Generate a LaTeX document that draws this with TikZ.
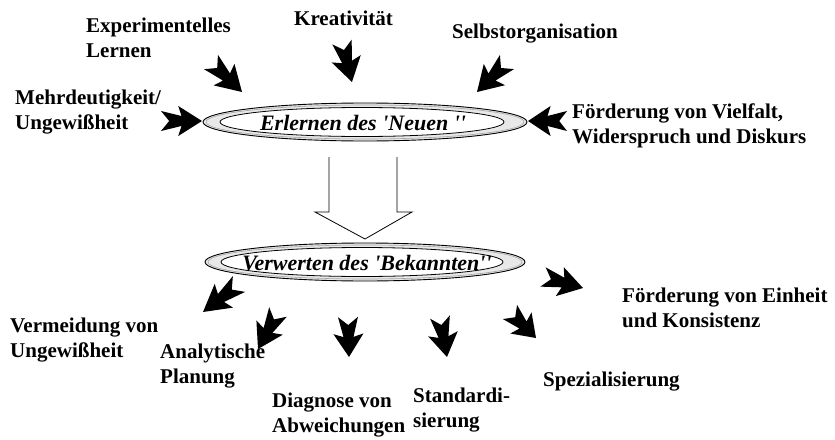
\documentclass[tikz,border=0pt]{standalone}
\usepackage{fontspec}
\setmainfont{Liberation Serif}
\usetikzlibrary{calc,shapes.geometric}
\newcommand\fatarrow[2]{%
  \fill[black] ($(#1)!10pt!90:(#2)$) -- ($(#1)!0.5!(#2)!5pt!90:(#2)$)
    -- ($(#1)!0.42!(#2)!15pt!90:(#2)$) -- (#2)
    -- ($(#1)!0.42!(#2)!15pt!-90:(#2)$) -- ($(#1)!0.5!(#2)!5pt!-90:(#2)$)
    -- ($(#1)!10pt!-90:(#2)$) -- ($(#1)!0.2!(#2)$) -- cycle;}
\begin{document}
\begin{tikzpicture}[x=1pt,y=-1pt,
  lbl/.style={anchor=base west, align=left, inner sep=0pt,
    font=\fontsize{21}{24.5}\selectfont\bfseries},
  outerell/.style={ellipse, draw=black, line width=0.9pt, fill=gray!18, inner sep=0pt},
  shadeell/.style={ellipse, draw=gray!70, line width=0.6pt, inner sep=0pt},
  innerell/.style={ellipse, draw=black, line width=0.8pt, fill=white, inner sep=0pt},
  etext/.style={inner sep=0pt, font=\fontsize{22}{24}\selectfont\bfseries\itshape}]
\useasboundingbox (0,0) rectangle (835,439);

% ellipses
\node[outerell, minimum width=324pt, minimum height=38pt] (E1o) at (365,122) {};
\node[shadeell, minimum width=318pt, minimum height=34pt] (E1s) at (365,122) {};
\node[innerell, minimum width=284pt, minimum height=29pt] (E1i) at (362,122) {};
\node[etext] (E1) at (363,123)
  {Erlernen des \textquotesingle Neuen~\textquotesingle\textquotesingle};
\node[outerell, minimum width=320pt, minimum height=38pt] (E2o) at (365,262) {};
\node[shadeell, minimum width=314pt, minimum height=34pt] (E2s) at (365,262) {};
\node[innerell, minimum width=282pt, minimum height=29pt] (E2i) at (362,262) {};
\node[etext] (E2) at (367,263)
  {Verwerten des \textquotesingle Bekannten\textquotesingle\textquotesingle};

% hollow block arrow
\draw[line width=0.8pt, line join=miter] (329,157) -- (329,212) -- (315,212) -- (365,239)
  -- (412,212) -- (397,212) -- (397,157);

% labels (anchor at baseline of last line)
\node[lbl] (L1) at (86,57) {Experimentelles\\Lernen};
\node[lbl] (L2) at (294,25) {Kreativität};
\node[lbl] (L3) at (452,38) {Selbstorganisation};
\node[lbl] (L4) at (15,129) {Mehrdeutigkeit/\\Ungewißheit};
\node[lbl] (L5) at (572,143) {Förderung von Vielfalt,\\Widerspruch und Diskurs};
\node[lbl] (M1) at (622,327) {Förderung von Einheit\\und Konsistenz};
\node[lbl] (M2) at (10,357) {Vermeidung von\\Ungewißheit};
\node[lbl] (M3) at (160,383) {Analytische\\Planung};
\node[lbl] (M4) at (272,432) {Diagnose von\\Abweichungen};
\node[lbl] (M5) at (413,427) {Standardi-\\sierung};
\node[lbl] (M6) at (543,386) {Spezialisierung};

% arrow end points
\coordinate (a1t) at (211,62);  \coordinate (a1h) at (242,92);
\coordinate (a2t) at (342,42);  \coordinate (a2h) at (352,82);
\coordinate (a3t) at (507,62);  \coordinate (a3h) at (477,92);
\coordinate (a4t) at (161,121); \coordinate (a4h) at (202,121);
\coordinate (a5t) at (567,121); \coordinate (a5h) at (528,121);
\coordinate (b1t) at (543,277); \coordinate (b1h) at (583,288);
\coordinate (b2t) at (239,284); \coordinate (b2h) at (203,312);
\coordinate (b3t) at (278,312); \coordinate (b3h) at (258,349);
\coordinate (b4t) at (348,317); \coordinate (b4h) at (349,357);
\coordinate (b5t) at (440,317); \coordinate (b5h) at (447,357);
\coordinate (b6t) at (510,312); \coordinate (b6h) at (536,338);

\fatarrow{a1t}{a1h}
\fatarrow{a2t}{a2h}
\fatarrow{a3t}{a3h}
\fatarrow{a4t}{a4h}
\fatarrow{a5t}{a5h}
\fatarrow{b1t}{b1h}
\fatarrow{b2t}{b2h}
\fatarrow{b3t}{b3h}
\fatarrow{b4t}{b4h}
\fatarrow{b5t}{b5h}
\fatarrow{b6t}{b6h}
\end{tikzpicture}
\end{document}
